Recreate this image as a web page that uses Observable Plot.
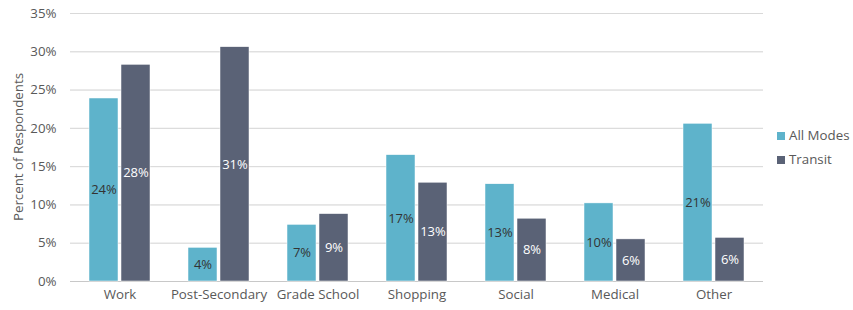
<!DOCTYPE html>
<html>
<head>
<meta charset="utf-8">
<script src="https://cdn.jsdelivr.net/npm/d3@7"></script>
<script src="https://cdn.jsdelivr.net/npm/@observablehq/plot@0.6"></script>
<style>
  body { margin: 0; background: #fff; font-family: "Open Sans", sans-serif; }
  #wrap { position: relative; width: 853px; height: 310px; }
  #legend { position: absolute; left: 777px; top: 123px; font-size: 13.3px; color: #595959; line-height: 24px; }
  .sw { display: inline-block; width: 8px; height: 8px; margin-right: 4px; vertical-align: 0px; }
  #ylabel { position: absolute; left: 18px; top: 147px; transform: translate(-50%, -50%) rotate(-90deg);
            white-space: nowrap; font-size: 13.3px; color: #595959; }
</style>
</head>
<body>
<div id="wrap"><div id="chart"></div><div id="legend"></div><div id="ylabel"></div></div>
<script>
const categories = ["Work", "Post-Secondary", "Grade School", "Shopping", "Social", "Medical", "Other"];
const seriesNames = ["All Modes", "Transit"];
const seriesColors = ["#5eb3cb", "#5a6276"];
const labelColors = ["#333333", "#ffffff"];
const allModes = [23.9, 4.4, 7.4, 16.5, 12.7, 10.2, 20.6];
const transit = [28.3, 30.6, 8.8, 12.9, 8.2, 5.5, 5.7];
const allModesLabels = ["24%", "4%", "7%", "17%", "13%", "10%", "21%"];
const transitLabels = ["28%", "31%", "9%", "13%", "8%", "6%", "6%"];
const yTicks = [0, 5, 10, 15, 20, 25, 30, 35];
const yTitle = "Percent of Respondents";

const data = [];
categories.forEach((c, i) => {
  data.push({category: c, series: seriesNames[0], value: allModes[i], label: allModesLabels[i]});
  data.push({category: c, series: seriesNames[1], value: transit[i], label: transitLabels[i]});
});

const chart = Plot.plot({
  width: 853,
  height: 310,
  marginLeft: 68,
  marginRight: 88,
  marginTop: 13,
  marginBottom: 29,
  style: {fontFamily: "Open Sans, sans-serif", fontSize: "13.3px", color: "#595959", background: "#fff"},
  fx: {domain: categories, padding: 0, label: null, tickSize: 0, tickPadding: 8, axis: "bottom"},
  x: {domain: seriesNames, axis: null, paddingInner: 0.09, paddingOuter: 0.58},
  y: {domain: [0, 35], ticks: yTicks, tickFormat: d => d + "%", tickSize: 0, tickPadding: 14,
      label: null, grid: true},
  marks: [
    Plot.ruleY(yTicks, {stroke: "#d9d9d9", strokeOpacity: 1}),
    Plot.ruleY([0], {stroke: "#c8c8c8"}),
    ...seriesNames.map((s, k) => Plot.barY(data.filter(d => d.series === s), {
      fx: "category", x: "series", y: "value", fill: seriesColors[k], stroke: "#ffffff", strokeWidth: 0.5
    })),
    ...seriesNames.map((s, k) => Plot.text(data.filter(d => d.series === s), {
      fx: "category", x: "series", y: d => d.value / 2, text: "label", fill: labelColors[k], fontSize: 13
    }))
  ]
});
document.getElementById("chart").appendChild(chart);
document.getElementById("ylabel").textContent = yTitle;

const legend = document.getElementById("legend");
seriesNames.forEach((s, k) => {
  const row = document.createElement("div");
  row.innerHTML = `<span class="sw" style="background:${seriesColors[k]}"></span>${s}`;
  legend.appendChild(row);
});
</script>
</body>
</html>
